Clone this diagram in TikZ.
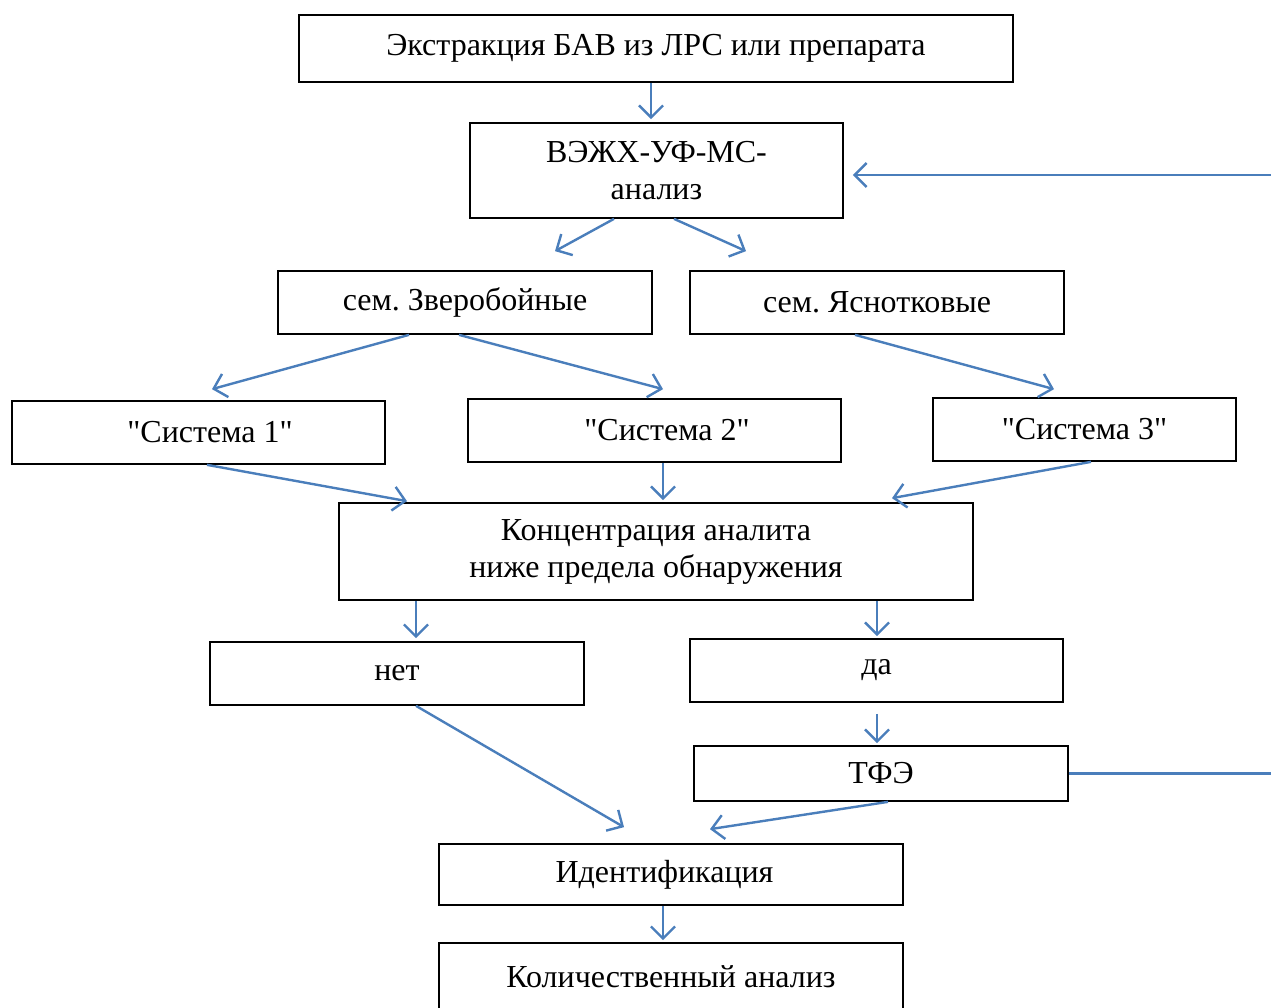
\documentclass[tikz,border=0pt]{standalone}
\usepackage{fontspec}
\setmainfont{Liberation Serif}[Ligatures=TeXReset]
\usetikzlibrary{arrows.meta}
\definecolor{arr}{RGB}{74,126,187}
\frenchspacing
\begin{document}
\begin{tikzpicture}[x=1pt,y=-1pt,
  box/.style={draw=black,line width=1.7pt,inner sep=0pt,align=center,
    font=\fontsize{32}{37}\selectfont},
  conn/.style={draw=arr,line width=2.4pt,-{Straight Barb[length=12pt,width=24pt,line width=2.4pt]}},
  plain/.style={draw=arr,line width=2.4pt}]
\useasboundingbox (0,0) rectangle (1271,1008);
\clip (0,0) rectangle (1271,1008);
\fill[white] (0,0) rectangle (1271,1008);
% boxes
\node[box,minimum width=714pt,minimum height=67pt] (ext) at (656,48.5) {Экстракция БАВ из ЛРС или препарата};
\node[box,minimum width=373pt,minimum height=95pt] (hplc) at (656.5,170.5) {ВЭЖХ-УФ-МС-\\анализ};
\node[box,minimum width=374pt,minimum height=63pt] (zv) at (465,302.5) {сем. Зверобойные};
\node[box,minimum width=374pt,minimum height=63pt] (ya) at (877,302.5) {сем. Яснотковые};
\node[box,minimum width=373pt,minimum height=63pt] (s1) at (198.5,432.5) {\hspace*{23pt}"Система 1"};
\node[box,minimum width=373pt,minimum height=63pt] (s2) at (654.5,430.5) {\hspace*{25pt}"Система 2"};
\node[box,minimum width=303pt,minimum height=63pt] (s3) at (1084.5,429.5) {"Система 3"};
\node[box,minimum width=634pt,minimum height=97pt] (conc) at (656,551.5) {Концентрация аналита\\ниже предела обнаружения};
\node[box,minimum width=374pt,minimum height=63pt] (net) at (397,673.5) {нет};
\node[box,minimum width=373pt,minimum height=63pt] (da) at (876.5,670.5) {да};
\node[box,minimum width=374pt,minimum height=55pt] (tfe) at (881,773.5) {ТФЭ};
\node[box,minimum width=464pt,minimum height=61pt] (ident) at (671,874.5) {Идентификация\hspace*{13pt}};
\node[box,minimum width=464pt,minimum height=67pt] (kol) at (671,976.5) {Количественный анализ};
% free ends
\coordinate (r1) at (1271,175);
\coordinate (r2) at (1271,773.5);
% connectors
\draw[conn] ([xshift=-5pt]ext.south) -- ([xshift=-5.5pt,yshift=3pt]hplc.north);
\draw[conn] ([xshift=-42.5pt]hplc.south) -- ([xshift=90pt,yshift=19pt]zv.north);
\draw[conn] ([xshift=17.5pt]hplc.south) -- ([xshift=-131pt,yshift=19pt]ya.north);
\draw[conn] ([xshift=-56pt]zv.south) -- ([xshift=13.5pt,yshift=11pt]s1.north);
\draw[conn] ([xshift=-6pt]zv.south) -- ([xshift=8.5pt,yshift=9pt]s2.north);
\draw[conn] ([xshift=-22pt]ya.south) -- ([xshift=-30.5pt,yshift=8pt]s3.north);
\draw[conn] ([xshift=8.5pt]s1.south) -- ([xshift=-249pt,yshift=1pt]conc.north);
\draw[conn] ([xshift=8.5pt]s2.south) -- ([xshift=7pt,yshift=2pt]conc.north);
\draw[conn] ([xshift=6.5pt]s3.south) -- ([xshift=236pt,yshift=4pt]conc.north);
\draw[conn] ([xshift=-240pt]conc.south) -- ([xshift=19pt,yshift=3pt]net.north);
\draw[conn] ([xshift=221pt]conc.south) -- ([xshift=0.5pt,yshift=2pt]da.north);
\draw[conn] ([xshift=0.5pt,yshift=-11pt]da.south) -- ([xshift=-4pt,yshift=2pt]tfe.north);
\draw[conn] ([xshift=19pt]net.south) -- ([xshift=-47pt,yshift=16pt]ident.north);
\draw[conn] ([xshift=7pt]tfe.south) -- ([xshift=39pt,yshift=14pt]ident.north);
\draw[conn] ([xshift=-8pt]ident.south) -- ([xshift=-8pt,yshift=2pt]kol.north);
\draw[conn] (r1) -- ([xshift=9pt,yshift=-4.5pt]hplc.east);
\draw[plain] (tfe.east) -- (r2);
\end{tikzpicture}
\end{document}
